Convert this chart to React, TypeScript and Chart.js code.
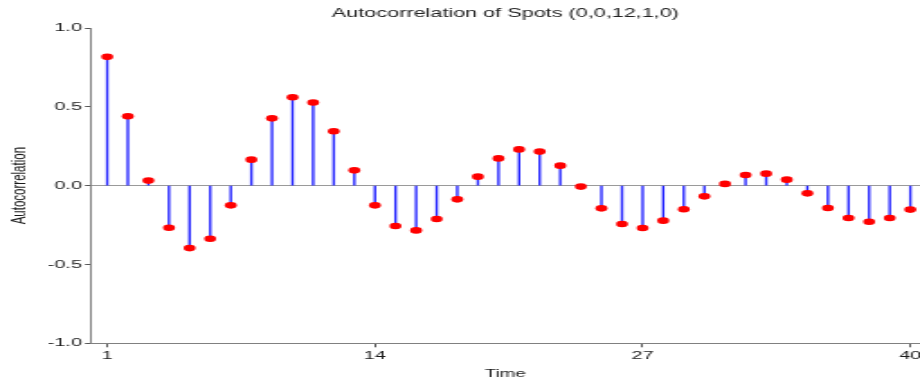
import React, { useEffect, useRef } from "react";
import { Chart, registerables } from "chart.js";

Chart.register(...registerables);

// Lags (x) and autocorrelation values (y)
const lags = [
  1, 2, 3, 4, 5, 6, 7, 8, 9, 10, 11, 12, 13, 14, 15, 16, 17, 18, 19, 20,
  21, 22, 23, 24, 25, 26, 27, 28, 29, 30, 31, 32, 33, 34, 35, 36, 37, 38, 39, 40,
];
const acf = [
  0.817, 0.44, 0.032, -0.267, -0.396, -0.337, -0.125, 0.165, 0.427, 0.561,
  0.527, 0.345, 0.097, -0.125, -0.256, -0.284, -0.212, -0.087, 0.057, 0.173,
  0.23, 0.216, 0.127, -0.006, -0.144, -0.243, -0.269, -0.222, -0.15, -0.068,
  0.011, 0.068, 0.076, 0.038, -0.049, -0.142, -0.205, -0.229, -0.205, -0.152,
];
const xTickValues = [1, 14, 27, 40];
const titleText = "Autocorrelation of Spots (0,0,12,1,0)";
const xTitle = "Time";
const yTitle = "Autocorrelation";

const FONT = "'Liberation Sans', Arial, Helvetica, sans-serif";
const BITMAP_W = 511;
const H = 381;

export default function App() {
  const ref = useRef<HTMLCanvasElement>(null);

  useEffect(() => {
    document.body.style.margin = "0";
    const points = lags.map((x, i) => ({ x, y: acf[i] }));
    const chart = new Chart(ref.current!, {
      type: "bar",
      data: {
        datasets: [
          {
            type: "scatter",
            data: points,
            order: 0,
            pointStyle: "circle",
            pointRadius: 3.3,
            pointHoverRadius: 3.3,
            pointBackgroundColor: "#ff0000",
            pointBorderWidth: 0,
            borderWidth: 0,
            showLine: false,
            clip: false,
          } as any,
          {
            type: "bar",
            data: points,
            order: 1,
            backgroundColor: "#2424ff",
            borderWidth: 0,
            barThickness: 0.72,
          } as any,
        ],
      },
      options: {
        responsive: false,
        animation: false,
        events: [],
        layout: { padding: 0, autoPadding: false },
        plugins: {
          legend: { display: false },
          tooltip: { enabled: false },
          title: {
            display: true,
            text: titleText,
            fullSize: false,
            color: "#222",
            font: { family: FONT, size: 12, weight: "normal" },
            padding: { top: 6, bottom: 7.6 },
          },
        },
        scales: {
          x: {
            type: "linear",
            min: 0.2,
            max: 40.47,
            offset: false,
            afterFit: (s: any) => {
              s.height = 37.7;
              s.paddingLeft = 0;
              s.paddingRight = 0;
            },
            afterBuildTicks: (s: any) => {
              s.ticks = xTickValues.map((v) => ({ value: v }));
            },
            grid: {
              offset: false,
              drawOnChartArea: false,
              drawTicks: true,
              tickLength: 4,
              tickColor: "#555",
            },
            border: { display: true, color: "#808080", width: 1 },
            ticks: {
              autoSkip: false,
              maxRotation: 0,
              padding: 2,
              color: "#1a1a1a",
              font: { family: FONT, size: 11 },
              callback: (v: any) => String(v),
            },
            title: {
              display: true,
              text: xTitle,
              color: "#1a1a1a",
              font: { family: FONT, size: 10.5 },
              padding: { top: 0, bottom: 0.3 },
            },
          },
          y: {
            type: "linear",
            min: -1,
            max: 1,
            afterFit: (s: any) => {
              s.width = 50.4;
              s.paddingTop = 0;
              s.paddingBottom = 0;
            },
            grid: {
              drawOnChartArea: true,
              drawTicks: true,
              tickLength: 3.2,
              tickColor: "#555",
              color: (c: any) =>
                c.tick && c.tick.value === 0 ? "#9a9a9a" : "rgba(0,0,0,0)",
            },
            border: { display: true, color: "#808080", width: 1 },
            ticks: {
              stepSize: 0.5,
              padding: 1.7,
              color: "#1a1a1a",
              font: { family: FONT, size: 11 },
              callback: (v: any) => Number(v).toFixed(1),
            },
            title: {
              display: true,
              text: yTitle,
              color: "#1a1a1a",
              font: { family: FONT, size: 11.5 },
              padding: { top: 3.5, bottom: 0 },
            },
          },
        },
      },
    });
    return () => chart.destroy();
  }, []);

  return (
    <div
      style={{
        position: "absolute",
        left: 0,
        top: 0,
        width: 920,
        height: H,
        overflow: "hidden",
        background: "#fff",
      }}
    >
      <canvas
        ref={ref}
        width={BITMAP_W}
        height={H}
        style={{ width: "920px", height: H + "px", display: "block" }}
      />
    </div>
  );
}
